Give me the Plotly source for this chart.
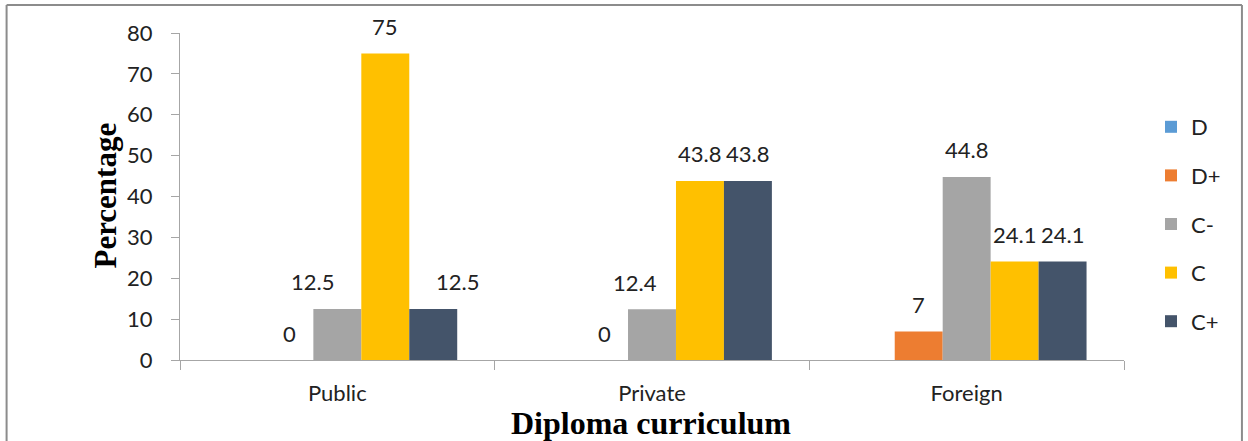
import plotly.graph_objects as go

categories = ["Public", "Private", "Foreign"]
series_names = ["D", "D+", "C-", "C", "C+"]
D_vals = [None, None, None]
Dplus_vals = [0, 0, 7]
Cminus_vals = [12.5, 12.4, 44.8]
C_vals = [75, 43.8, 24.1]
Cplus_vals = [12.5, 43.8, 24.1]
all_vals = [D_vals, Dplus_vals, Cminus_vals, C_vals, Cplus_vals]
colors = ["#5B9BD5", "#ED7D31", "#A5A5A5", "#FFC000", "#44546A"]

# plot geometry (pixels)
L, R, T, B = 179.5, 124, 33, 81
W, H = 1248, 441
plot_w = W - L - R
bargap = 0.238
bar_px = plot_w / len(categories) * (1 - bargap) / len(series_names)

# manual label nudges (Excel moved a few labels sideways)
nudges = {("C-", "Public"): -25, ("C+", "Public"): 24, ("C-", "Private"): -17}

TXT = "Lato"
FS = 22
fig = go.Figure()
for j, (name, vals, col) in enumerate(zip(series_names, all_vals, colors)):
    fig.add_trace(go.Bar(
        name=name, x=categories, y=vals, marker_color=col,
        marker_line_width=0, legendgroup=name,
    ))
    for cat, v in zip(categories, vals):
        if v is None:
            continue
        fig.add_annotation(
            x=cat, y=v, xref="x", yref="y", text=f"{v:g}", showarrow=False,
            xshift=(j - 2) * bar_px + nudges.get((name, cat), 0), yshift=27,
            yanchor="middle", xanchor="center",
            font=dict(family=TXT, size=FS, color="#222222"),
        )

def px_x(p):
    return (p - L) / plot_w

def px_y(p):
    return (H - B - p) / (H - T - B)

# outer chart frame (top, left, right)
frame = dict(color="#8c8c8c", width=2)
fig.add_shape(type="line", xref="paper", yref="paper", x0=px_x(6), x1=px_x(1242), y0=px_y(5), y1=px_y(5), line=frame)
fig.add_shape(type="line", xref="paper", yref="paper", x0=px_x(6), x1=px_x(6), y0=px_y(5), y1=px_y(445), line=frame)
fig.add_shape(type="line", xref="paper", yref="paper", x0=px_x(1242), x1=px_x(1242), y0=px_y(5), y1=px_y(445), line=frame)

fig.add_annotation(text="Percentage", xref="paper", yref="paper", x=px_x(104), y=px_y(196),
                   textangle=-90, showarrow=False, xanchor="center", yanchor="middle",
                   font=dict(family="Liberation Serif", size=31, color="#000000", weight="bold"))
fig.add_annotation(text="Diploma curriculum", xref="paper", yref="paper", x=px_x(651), y=px_y(423),
                   showarrow=False, xanchor="center", yanchor="middle",
                   font=dict(family="Liberation Serif", size=32, color="#000000", weight="bold"))

fig.update_layout(
    width=W, height=H,
    margin=dict(l=L, r=R, t=T, b=B),
    paper_bgcolor="white", plot_bgcolor="white",
    barmode="group", bargap=bargap, bargroupgap=0,
    showlegend=True,
    legend=dict(x=px_x(1151), y=px_y(224), xanchor="left", yanchor="middle",
                font=dict(family=TXT, size=FS, color="#222222"),
                tracegroupgap=17, bgcolor="rgba(0,0,0,0)"),
    xaxis=dict(type="category", showline=True, linecolor="#a6a6a6", linewidth=1,
               ticks="outside", tickson="boundaries", ticklen=9, tickcolor="#a6a6a6",
               tickfont=dict(family=TXT, size=FS, color="#222222"), showgrid=False,
               ticklabelstandoff=14),
    yaxis=dict(range=[0, 80], dtick=10, showline=True, linecolor="#a6a6a6", linewidth=1,
               ticks="outside", ticklen=8, tickcolor="#a6a6a6", showgrid=False, zeroline=False,
               tickfont=dict(family=TXT, size=FS, color="#222222"), ticklabelstandoff=14),
)

fig.write_html("out.html", config={"displayModeBar": False},
               post_script="document.body.style.margin='0';document.body.style.overflow='hidden';")
